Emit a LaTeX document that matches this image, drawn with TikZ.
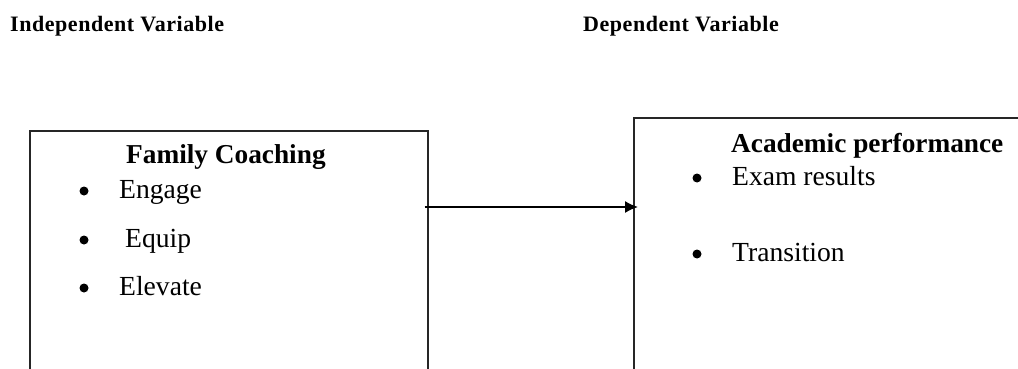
\documentclass[tikz,border=0pt]{standalone}
\usepackage{fontspec}
\setmainfont{Liberation Serif}
\newfontfamily\spacedbold[LetterSpace=2.5]{Liberation Serif Bold}
\usetikzlibrary{arrows.meta,calc}
\begin{document}
\begin{tikzpicture}[x=1pt,y=1pt,
  frame/.style={draw=black!85,line width=1.5pt,anchor=north west,inner sep=0pt},
  heading/.style={anchor=base west,inner sep=0pt,font=\fontsize{22}{24}\spacedbold},
  title/.style={anchor=base west,inner sep=0pt,font=\fontsize{27.3}{30}\selectfont\bfseries},
  item/.style={anchor=base west,inner sep=0pt,font=\fontsize{27.6}{30}\selectfont},
  dot/.style={circle,fill=black,inner sep=0pt,minimum size=9pt},
  link/.style={line width=1.5pt,-{Latex[length=13pt,width=12pt]}}]
\useasboundingbox (0,0) rectangle (1018,-369);
\clip (0,0) rectangle (1018,-369);

% column headings
\node[heading] (hind) at (10,-32) {Independent Variable};
\node[heading] (hdep) at (583,-32) {Dependent Variable};

% boxes
\node[frame,minimum width=398pt,minimum height=300pt] (fam) at (29,-130) {};
\node[frame,minimum width=450pt,minimum height=300pt] (perf) at (633,-117) {};

% left box contents
\node[title] (famt) at (126,-163) {Family Coaching};
\node[dot] (b1) at (84,-191) {};
\node[item] (i1) at (119,-198) {Engage};
\node[dot] (b2) at (84,-240) {};
\node[item] (i2) at (125,-247) {Equip};
\node[dot] (b3) at (84,-288) {};
\node[item] (i3) at (119,-295) {Elevate};

% right box contents
\node[title] (perft) at (731,-152) {Academic performance};
\node[dot] (c1) at (697,-178) {};
\node[item] (j1) at (732,-185) {Exam results};
\node[dot] (c2) at (697,-254) {};
\node[item] (j2) at (732,-261) {Transition};

% connector
\draw[link] ($(fam.north east)+(-4,-77)$) -- ($(perf.north west)+(5,-90)$);
\end{tikzpicture}
\end{document}
